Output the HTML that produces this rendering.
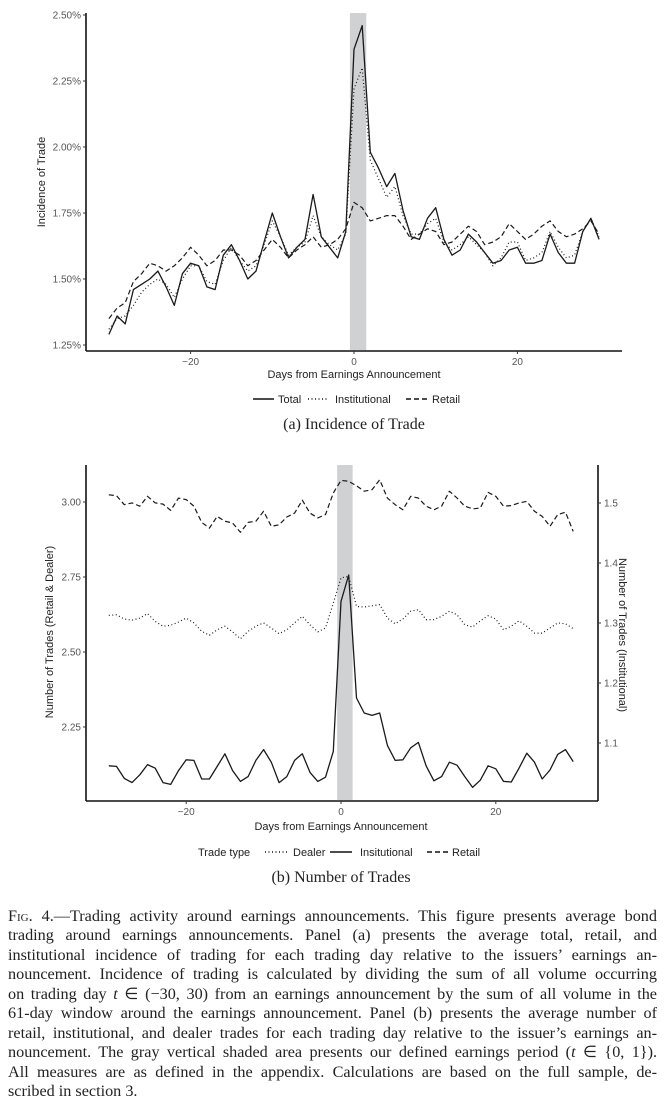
<!DOCTYPE html>
<html><head><meta charset="utf-8">
<style>
body{margin:0;background:#fff;width:666px;height:1114px;overflow:hidden;position:relative;font-family:"Liberation Sans",sans-serif}
svg{position:absolute;left:0;top:0}
.cap{position:absolute;left:8px;width:649px;font-family:"Liberation Serif",serif;font-size:16.2px;color:#222}
.ln{height:19.45px;line-height:19.45px;white-space:nowrap;text-align:justify;text-align-last:justify}
.ln.last{text-align-last:left}
.sc{font-variant:small-caps}
</style></head><body>
<svg id="chart" width="666" height="890"></svg>
<div class="cap" style="top:907px">
<div class="ln"><span class="sc">Fig.</span> 4.—Trading activity around earnings announcements. This figure presents average bond</div>
<div class="ln">trading around earnings announcements. Panel (a) presents the average total, retail, and</div>
<div class="ln">institutional incidence of trading for each trading day relative to the issuers’ earnings an-</div>
<div class="ln">nouncement. Incidence of trading is calculated by dividing the sum of all volume occurring</div>
<div class="ln">on trading day <i>t</i> ∈ (−30, 30) from an earnings announcement by the sum of all volume in the</div>
<div class="ln">61-day window around the earnings announcement. Panel (b) presents the average number of</div>
<div class="ln">retail, institutional, and dealer trades for each trading day relative to the issuer’s earnings an-</div>
<div class="ln">nouncement. The gray vertical shaded area presents our defined earnings period (<i>t</i> ∈ {0, 1}).</div>
<div class="ln">All measures are as defined in the appendix. Calculations are based on the full sample, de-</div>
<div class="ln last">scribed in section 3.</div>
</div>
<script>
const days=[];for(let d=-30;d<=30;d++)days.push(d);
// Panel (a) incidence of trade (%)
const aTotal=[1.29,1.36,1.33,1.46,1.48,1.50,1.53,1.47,1.40,1.52,1.56,1.55,1.47,1.46,1.59,1.63,1.57,1.50,1.53,1.64,1.75,1.66,1.58,1.62,1.65,1.82,1.66,1.62,1.58,1.68,2.37,2.46,1.98,1.92,1.85,1.90,1.76,1.66,1.65,1.73,1.77,1.65,1.59,1.61,1.67,1.64,1.60,1.56,1.57,1.61,1.62,1.56,1.56,1.57,1.67,1.60,1.56,1.56,1.68,1.73,1.65];
const aInst=[1.31,1.35,1.36,1.40,1.45,1.48,1.50,1.48,1.43,1.50,1.55,1.55,1.49,1.48,1.57,1.62,1.57,1.53,1.55,1.63,1.72,1.66,1.59,1.62,1.64,1.74,1.66,1.63,1.61,1.67,2.22,2.30,1.95,1.88,1.81,1.85,1.74,1.67,1.67,1.71,1.73,1.64,1.61,1.63,1.66,1.63,1.60,1.55,1.58,1.64,1.64,1.57,1.58,1.60,1.68,1.62,1.58,1.59,1.68,1.73,1.66];
const aRetail=[1.35,1.39,1.41,1.49,1.52,1.56,1.55,1.53,1.55,1.58,1.62,1.59,1.55,1.57,1.61,1.61,1.59,1.55,1.57,1.61,1.65,1.62,1.58,1.61,1.63,1.66,1.62,1.63,1.65,1.69,1.79,1.77,1.72,1.73,1.74,1.74,1.70,1.65,1.67,1.69,1.68,1.63,1.64,1.67,1.70,1.68,1.63,1.64,1.66,1.71,1.68,1.65,1.67,1.70,1.72,1.68,1.66,1.67,1.69,1.72,1.67];
const aTicksY=[1.25,1.50,1.75,2.00,2.25,2.50];
const aTickLabels=["1.25%","1.50%","1.75%","2.00%","2.25%","2.50%"];
const xTicks=[-20,0,20];
const xTickLabels=["−20","0","20"];
// Panel (b) number of trades
const bRetail=[3.024,3.021,2.991,2.997,2.986,3.019,2.997,2.993,2.972,3.013,3.008,2.986,2.932,2.913,2.952,2.936,2.930,2.899,2.932,2.936,2.969,2.919,2.924,2.950,2.963,3.006,2.963,2.947,2.958,3.030,3.072,3.069,3.054,3.036,3.041,3.074,3.013,2.991,2.974,3.019,3.013,2.986,2.974,2.986,3.036,3.013,2.986,2.977,2.980,3.032,3.019,2.986,2.988,2.997,3.002,2.969,2.952,2.919,2.958,2.966,2.902];
const bDealer=[2.622,2.624,2.610,2.606,2.613,2.628,2.602,2.586,2.589,2.600,2.613,2.597,2.569,2.556,2.574,2.586,2.567,2.544,2.569,2.586,2.597,2.580,2.561,2.574,2.597,2.619,2.591,2.567,2.580,2.663,2.747,2.752,2.652,2.650,2.654,2.658,2.613,2.594,2.610,2.636,2.641,2.608,2.608,2.619,2.636,2.624,2.591,2.583,2.604,2.621,2.610,2.574,2.586,2.604,2.586,2.563,2.563,2.580,2.597,2.594,2.578];
const bInst=[1.062,1.061,1.041,1.034,1.047,1.064,1.058,1.034,1.031,1.054,1.072,1.071,1.040,1.040,1.061,1.082,1.054,1.036,1.044,1.071,1.089,1.068,1.034,1.044,1.071,1.082,1.051,1.036,1.043,1.086,1.336,1.380,1.175,1.150,1.146,1.150,1.096,1.071,1.072,1.092,1.101,1.062,1.037,1.044,1.068,1.063,1.044,1.026,1.038,1.062,1.057,1.036,1.035,1.058,1.083,1.068,1.040,1.055,1.081,1.089,1.069];
const bLeftTicks=[2.25,2.50,2.75,3.00];
const bLeftLabels=["2.25","2.50","2.75","3.00"];
const bRightTicks=[1.1,1.2,1.3,1.4,1.5];
const bRightLabels=["1.1","1.2","1.3","1.4","1.5"];
const shade=[-0.5,1.5];

const svg=document.getElementById('chart');
const NS='http://www.w3.org/2000/svg';
function mk(tag,attrs,parent){const e=document.createElementNS(NS,tag);for(const k in attrs)e.setAttribute(k,attrs[k]);(parent||svg).appendChild(e);return e;}
function txt(s,attrs){const e=mk('text',attrs);e.textContent=s;return e;}

const ax=d=>354+d*8.17;
const ay=v=>345-(v-1.25)*264;
const bx=d=>341+d*7.74;
const byL=v=>727-(v-2.25)*300;
const byR=v=>743-(v-1.1)*600;

function panel(xf,top,bottom,name){
  const r=mk('rect',{x:xf(shade[0]),y:top,width:xf(shade[1])-xf(shade[0]),height:bottom-top,fill:'#d0d1d3'});
  
  
}
function line(vals,xf,yf,dash,w,name){
  const d=vals.map((v,i)=>(i?'L':'M')+xf(days[i]).toFixed(1)+','+yf(v).toFixed(1)).join('');
  const p=mk('path',{d:d,fill:'none',stroke:'#1a1a1a','stroke-width':w,'stroke-dasharray':dash,'stroke-linejoin':'round'});
  
  
}
function xaxis(xf,y,x1,x2,name){
  const l=mk('line',{x1:x1,x2:x2,y1:y,y2:y,stroke:'#111','stroke-width':1.6});
  
  
  xTicks.forEach((t,i)=>{mk('line',{x1:xf(t),x2:xf(t),y1:y,y2:y+3,stroke:'#333'});
    const e=txt(xTickLabels[i],{x:xf(t),y:y+14,'font-size':10,fill:'#555','text-anchor':'middle'});
    
    });
}

// ---- Panel A ----
panel(ax,13,350,'panel-a');
line(aRetail,ax,ay,'5,3',1.2,'retail-line-a');
line(aInst,ax,ay,'1,2.5',1.2,'institutional-line-a');
line(aTotal,ax,ay,'',1.3,'total-line-a');
{const l=mk('line',{x1:86,x2:86,y1:13,y2:351,stroke:'#111','stroke-width':1.6});

}
aTicksY.forEach((t,i)=>{mk('line',{x1:83,x2:86,y1:ay(t),y2:ay(t),stroke:'#333'});
  const e=txt(aTickLabels[i],{x:81,y:ay(t)+3.5,'font-size':10,fill:'#555','text-anchor':'end'});
  
  });
xaxis(ax,351,86,622,'panel-a');
{const e=txt('Incidence of Trade',{x:0,y:0,'font-size':11,fill:'#222','text-anchor':'middle',transform:'translate(45,182) rotate(-90)'});
}
{const e=txt('Days from Earnings Announcement',{x:354,y:378,'font-size':11,fill:'#222','text-anchor':'middle'});
}
const legA=[['Total','',253,278],['Institutional','1,2.5',308,335],['Retail','5,3',406,432]];
legA.forEach(l=>{const g=mk('g',{});
  
  
  mk('line',{x1:l[2],x2:l[2]+21,y1:399,y2:399,stroke:'#111','stroke-width':1.4,'stroke-dasharray':l[1]},g);
  const t=mk('text',{x:l[3],y:403,'font-size':11,fill:'#222'},g);t.textContent=l[0];});
{const e=txt('(a) Incidence of Trade',{x:354,y:429,'font-size':16,fill:'#222','text-anchor':'middle','font-family':'Liberation Serif, serif'});
}

// ---- Panel B ----
panel(bx,465,800,'panel-b');
line(bRetail,bx,byL,'5,3',1.2,'retail-line-b');
line(bDealer,bx,byL,'1,2.5',1.2,'dealer-line-b');
line(bInst,bx,byR,'',1.3,'institutional-line-b');
{const l=mk('line',{x1:86,x2:86,y1:465,y2:801,stroke:'#111','stroke-width':1.6});

const r=mk('line',{x1:598,x2:598,y1:465,y2:801,stroke:'#111','stroke-width':1.6});
}
bLeftTicks.forEach((t,i)=>{mk('line',{x1:83,x2:86,y1:byL(t),y2:byL(t),stroke:'#333'});
  const e=txt(bLeftLabels[i],{x:81,y:byL(t)+3.5,'font-size':10,fill:'#555','text-anchor':'end'});
  });
bRightTicks.forEach((t,i)=>{mk('line',{x1:598,x2:601,y1:byR(t),y2:byR(t),stroke:'#333'});
  const e=txt(bRightLabels[i],{x:604,y:byR(t)+3.5,'font-size':10,fill:'#555'});
  });
xaxis(bx,801,86,598,'panel-b');
{const e=txt('Number of Trades (Retail & Dealer)',{x:0,y:0,'font-size':11,fill:'#222','text-anchor':'middle',transform:'translate(53,632) rotate(-90)'});
}
{const e=txt('Number of Trades (Institutional)',{x:0,y:0,'font-size':11,fill:'#222','text-anchor':'middle',transform:'translate(619,635) rotate(90)'});
}
{const e=txt('Days from Earnings Announcement',{x:341,y:830,'font-size':11,fill:'#222','text-anchor':'middle'});
}
{const e=txt('Trade type',{x:198,y:856,'font-size':11,fill:'#222'});
}
const legB=[['Dealer','1,2.5',265,293],['Insitutional','',330,360],['Retail','5,3',427,452]];
legB.forEach(l=>{const g=mk('g',{});
  
  
  mk('line',{x1:l[2],x2:l[2]+22,y1:852,y2:852,stroke:'#111','stroke-width':1.4,'stroke-dasharray':l[1]},g);
  const t=mk('text',{x:l[3],y:856,'font-size':11,fill:'#222'},g);t.textContent=l[0];});
{const e=txt('(b) Number of Trades',{x:341,y:882,'font-size':16,fill:'#222','text-anchor':'middle','font-family':'Liberation Serif, serif'});
}
</script>
</body></html>
